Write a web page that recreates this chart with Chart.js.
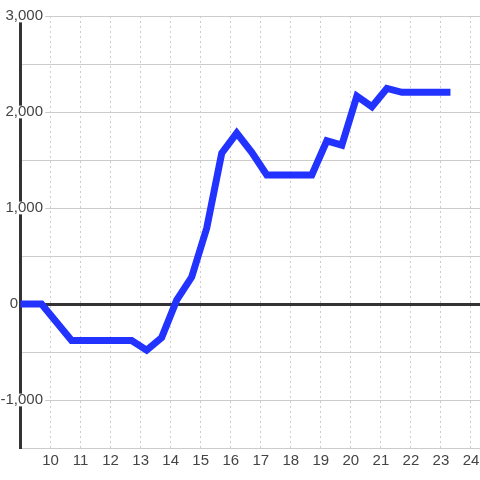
<!DOCTYPE html>
<html>
<head>
<meta charset="utf-8">
<script src="https://cdn.jsdelivr.net/npm/chart.js@4"></script>
<style>
  html, body { margin: 0; padding: 0; background: #fff; }
  #wrap { width: 480px; height: 480px; }
</style>
</head>
<body>
<div id="wrap"><canvas id="lineChart"></canvas></div>
<script>
// Hour of day (x) and value (y)
const hours = [9, 9.7, 10.7, 12.7, 13.2, 13.7, 14.2, 14.7, 15.2, 15.7, 16.2, 16.7, 17.2, 18.7, 19.2, 19.7, 20.2, 20.7, 21.2, 21.7, 23.2];
const values = [0, 0, -380, -380, -480, -350, 40, 280, 790, 1570, 1780, 1580, 1345, 1345, 1700, 1655, 2165, 2055, 2245, 2205, 2205];

// Axis ranges
const xMin = 9;
const xMax = 24.3;
const yMin = -1500;
const yMax = 3000;

const tickFont = { family: 'Liberation Sans, Arial, sans-serif', size: 15 };

function isLabelled(v) {
    return v % 1000 === 0 && v !== 0;
}

function createLineChart() {
    const ctx = document.getElementById('lineChart');

    new Chart(ctx, {
        type: 'line',
        data: {
            datasets: [{
                data: hours.map((h, i) => ({ x: h, y: values[i] })),
                borderColor: '#2233ff',
                borderWidth: 7,
                borderCapStyle: 'square',
                borderJoinStyle: 'miter',
                tension: 0,
                pointRadius: 0,
                fill: false
            }]
        },
        options: {
            responsive: true,
            maintainAspectRatio: false,
            animation: false,
            layout: {
                padding: { left: 20.5, right: 0, top: 16, bottom: 6 }
            },
            scales: {
                x: {
                    type: 'linear',
                    min: xMin,
                    max: xMax,
                    grid: {
                        color: '#ccc',
                        drawTicks: false
                    },
                    border: { display: false, dash: [2, 3] },
                    ticks: {
                        stepSize: 1,
                        includeBounds: false,
                        autoSkip: false,
                        maxRotation: 0,
                        padding: 4,
                        color: '#444',
                        font: tickFont,
                        callback: v => (v === xMin ? null : String(v))
                    },
                    // last label fits inside the canvas, no extra room needed
                    afterFit: scale => {
                        scale.paddingRight = 0;
                        scale.paddingLeft = 0;
                    }
                },
                y: {
                    min: yMin,
                    max: yMax,
                    grid: {
                        drawTicks: true,
                        tickLength: 40,
                        tickColor: 'rgba(0,0,0,0)',
                        color: c => (c.tick && c.tick.value === 0 ? '#333' : '#ccc'),
                        lineWidth: c => (c.tick && c.tick.value === 0 ? 3 : 1)
                    },
                    border: { color: '#333', width: 3 },
                    ticks: {
                        stepSize: 500,
                        mirror: true,
                        crossAlign: 'far',
                        padding: -20,
                        color: '#444',
                        font: { ...tickFont, lineHeight: 0.85 },
                        showLabelBackdrop: true,
                        backdropPadding: { top: 0, bottom: 0, left: 2, right: 2 },
                        backdropColor: c => (c.tick && isLabelled(c.tick.value) ? '#fff' : 'rgba(0,0,0,0)'),
                        callback: v => {
                            if (v === 0) return '0      ';
                            return v % 1000 === 0 ? v.toLocaleString('en-US') : '';
                        }
                    }
                }
            },
            plugins: {
                legend: { display: false },
                tooltip: { enabled: false }
            }
        }
    });
}

document.addEventListener('DOMContentLoaded', createLineChart);
</script>
</body>
</html>
